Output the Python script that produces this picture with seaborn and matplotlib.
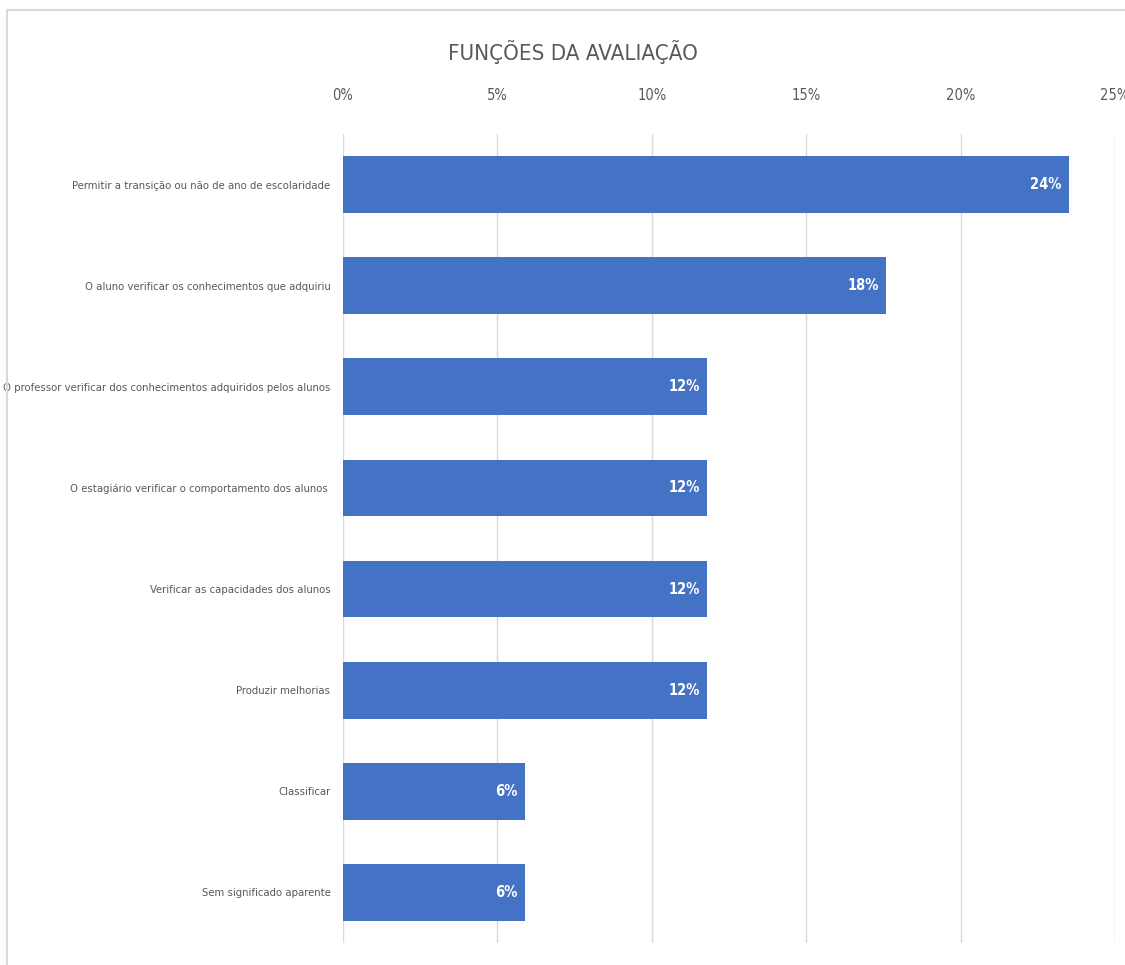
import matplotlib
matplotlib.use("Agg")
import matplotlib.pyplot as plt
import seaborn as sns
import pandas as pd
from matplotlib.patches import Rectangle
from matplotlib.ticker import FuncFormatter

categories = [
    "Permitir a transição ou não de ano de escolaridade",
    "O aluno verificar os conhecimentos que adquiriu",
    "O professor verificar dos conhecimentos adquiridos pelos alunos",
    "O estagiário verificar o comportamento dos alunos ",
    "Verificar as capacidades dos alunos",
    "Produzir melhorias",
    "Classificar",
    "Sem significado aparente",
]
values = [23.5, 17.6, 11.8, 11.8, 11.8, 11.8, 5.9, 5.9]
x_ticks = [0, 5, 10, 15, 20, 25]
title = "FUNÇÕES DA AVALIAÇÃO"

df = pd.DataFrame({"cat": categories, "val": values})

sns.set_theme(style="white")
plt.rcParams['font.family'] = ['DejaVu Sans']
plt.rcParams['font.stretch'] = 'condensed'

text_color = "#595959"
bar_color = "#4472C4"

fig = plt.figure(figsize=(11.25, 9.65), dpi=100)
ax = fig.add_axes([343/1125, 1-943/965, (1115-343)/1125, (943-134)/965])

sns.barplot(data=df, x="val", y="cat", orient="h", color=bar_color,
            saturation=1, width=0.56, ax=ax, edgecolor="none")

ax.set_xlim(0, 25)
ax.set_ylim(7.5, -0.5)
ax.xaxis.set_ticks_position("top")
ax.xaxis.set_label_position("top")
ax.set_xticks(x_ticks)
ax.xaxis.set_major_formatter(FuncFormatter(lambda v, p: f"{int(v)}%"))
ax.tick_params(axis="x", length=0, pad=22, labelsize=10.5, labelcolor=text_color)
ax.tick_params(axis="y", length=0, pad=9, labelsize=8.1, labelcolor=text_color)
ax.set_xlabel("")
ax.set_ylabel("")
ax.grid(axis="x", color="#D9D9D9", linewidth=1)
ax.set_axisbelow(True)
for s in ax.spines.values():
    s.set_visible(False)

for i, v in enumerate(values):
    ax.text(v - 0.25, i, f"{round(v):d}%", ha="right", va="center",
            color="white", fontsize=10.5, fontweight="bold")

fig.text(573/1125, 1-52/965, title, ha="center", va="center",
         fontsize=16, color=text_color)

fig.patches.append(Rectangle((7/1125, -0.01), 1.2, 1-10/965 + 0.01,
                             transform=fig.transFigure, fill=False,
                             edgecolor="#D9D9D9", linewidth=1.5))

fig.savefig("out.png", dpi=100)
